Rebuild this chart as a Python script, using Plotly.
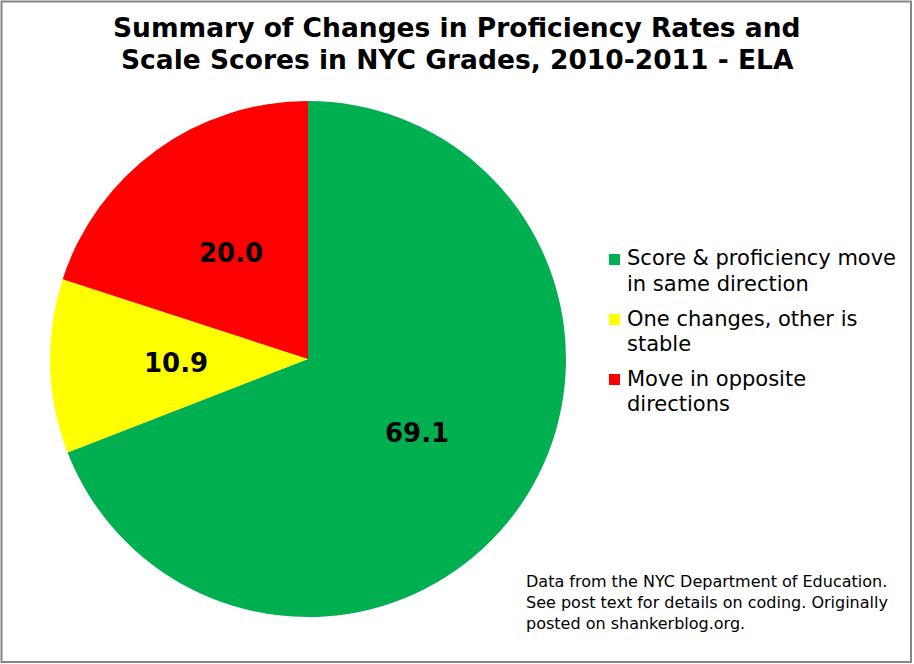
import math
import plotly.graph_objects as go

categories = [
    "Score & proficiency move<br>in same direction",
    "One changes, other is<br>stable",
    "Move in opposite<br>directions",
]
values = [69.1, 10.9, 20.0]
colors = ["#00B050", "#FFFF00", "#FF0000"]

title_lines = [
    "Summary of Changes in Proficiency Rates and",
    "Scale Scores in NYC Grades, 2010-2011 - ELA",
]
note_text = ("Data from the NYC Department of Education.<br>"
             "See post text for details on coding. Originally<br>"
             "posted on shankerblog.org.")

W, H = 914, 664

# pie geometry (pixels)
pie_left, pie_right, pie_top, pie_bottom = 50, 566, 101, 617
dom_x = [pie_left / W, pie_right / W]
dom_y = [(H - pie_bottom) / H, (H - pie_top) / H]

fig = go.Figure()
fig.add_trace(go.Pie(
    labels=categories,
    values=values,
    sort=False,
    direction="clockwise",
    rotation=0,
    marker=dict(colors=colors, line=dict(width=0)),
    textinfo="none",
    domain=dict(x=dom_x, y=dom_y),
    hoverinfo="label+value",
    showlegend=False,
))

annotations = []

# data labels at mid-angle, half radius
cx = (pie_left + pie_right) / 2
cy = (pie_top + pie_bottom) / 2
R = (pie_right - pie_left) / 2
total = sum(values)
cum = 0.0
for v in values:
    mid = (cum + v / 2) / total * 2 * math.pi
    cum += v
    px = cx + 0.51 * R * math.sin(mid)
    py = cy - 0.51 * R * math.cos(mid)
    annotations.append(dict(
        text=f"{v:.1f}", x=px / W, y=(H - py) / H, xref="paper", yref="paper",
        xanchor="center", yanchor="middle", showarrow=False,
        font=dict(family="DejaVu Sans", size=26, color="black", weight="bold"),
    ))

# title lines
for i, line in enumerate(title_lines):
    annotations.append(dict(
        text=line, x=0.5, y=(H - (27.5 + 32 * i)) / H, xref="paper", yref="paper",
        xanchor="center", yanchor="middle", showarrow=False,
        font=dict(family="DejaVu Sans", size=26.5, color="black", weight="bold"),
    ))

# legend
shapes = []
for i, (lab, col) in enumerate(zip(categories, colors)):
    for j, part in enumerate(lab.split("<br>")):
        cline = 258.5 + 60 * i + 25.5 * j
        annotations.append(dict(
            text=part, x=625 / W, y=(H - cline) / H, xref="paper", yref="paper",
            xanchor="left", yanchor="middle", align="left", showarrow=False,
            font=dict(family="DejaVu Sans", size=21, color="black"),
        ))
    sq_top = 254 + 60 * i
    shapes.append(dict(
        type="rect", xref="paper", yref="paper",
        x0=609 / W, x1=620 / W, y0=(H - sq_top - 11) / H, y1=(H - sq_top) / H,
        line=dict(width=0), fillcolor=col,
    ))

# footnote
annotations.append(dict(
    text=note_text, x=524 / W, y=(H - 570) / H, xref="paper", yref="paper",
    xanchor="left", yanchor="top", align="left", showarrow=False,
    font=dict(family="DejaVu Sans", size=16, color="black"),
))

# outer border
shapes.append(dict(
    type="rect", xref="paper", yref="paper",
    x0=1.5 / W, x1=911 / W, y0=(H - 662) / H, y1=(H - 1.5) / H,
    line=dict(color="#868686", width=2), fillcolor="rgba(0,0,0,0)",
))

fig.update_layout(
    width=W, height=H,
    margin=dict(l=0, r=0, t=0, b=0),
    paper_bgcolor="white",
    showlegend=False,
    annotations=annotations,
    shapes=shapes,
)

fig.write_html("out.html", config={"displayModeBar": False},
               post_script="document.body.style.margin='0';")
